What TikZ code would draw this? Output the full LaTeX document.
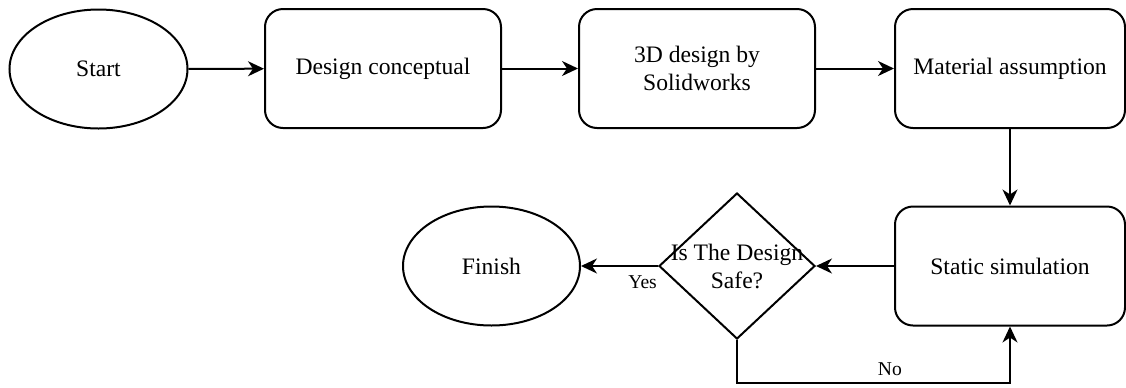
\documentclass[tikz,border=0pt]{standalone}
\usepackage{fontspec}
\setmainfont{Liberation Serif}
\newfontfamily\flowfont{Liberation Serif}
\usetikzlibrary{arrows.meta,shapes.geometric}

\begin{document}
\begin{tikzpicture}[x=0.5pt, y=-0.5pt,
    >={Stealth[length=8pt, width=7.5pt, inset=2.5pt]},
    every node/.style={font=\flowfont\fontsize{11.8}{14}\selectfont},
    stepbox/.style={draw, line width=1pt, rounded corners=9pt,
      minimum width=118pt, minimum height=59.5pt, align=center, inner sep=0pt},
    terminal/.style={draw, ellipse, line width=1pt,
      minimum width=89pt, minimum height=59.5pt, inner sep=0pt},
    decision/.style={draw, diamond, line width=1pt,
      minimum width=78pt, minimum height=73pt, inner sep=0pt},
    flow/.style={->, line width=1pt},
    edgelabel/.style={font=\flowfont\fontsize{9.8}{12}\selectfont}]

  \useasboundingbox (0,0) rectangle (1126,387);

  % top row: start and the first three steps
  \node[terminal] (start) at (98.5,69) {Start};
  \node[stepbox] (concept) at (383,68.5) {Design conceptual};
  \node[stepbox] (cad) at (697,68.5) {3D design by\\Solidworks};
  \node[stepbox, minimum width=115pt] (material) at (1010,68.5)
    {Material assumption};

  % bottom row: simulation, check and finish
  \node[stepbox, minimum width=115pt] (static) at (1010,266)
    {Static simulation};
  \node[decision, label={[align=center]center:Is The Design\\Safe?}]
    (safe) at (737,266) {};
  \node[terminal, minimum width=88.5pt] (finish) at (491.5,266) {Finish};

  % corner of the "No" loop under the check
  \coordinate (loop) at (737,383);

  % connectors
  \draw[flow] (start) -- (concept);
  \draw[flow] (concept) -- (cad);
  \draw[flow] (cad) -- (material);
  \draw[flow] (material) -- (static);
  \draw[flow] (static) -- (safe);
  \draw[flow] (safe) -- (finish)
    node[edgelabel, below, pos=0.2, yshift=-1pt] {Yes};
  \draw[flow] (safe.south) -- (loop)
    -| node[edgelabel, above, pos=0.28] {No} (static.south);

\end{tikzpicture}
\end{document}
